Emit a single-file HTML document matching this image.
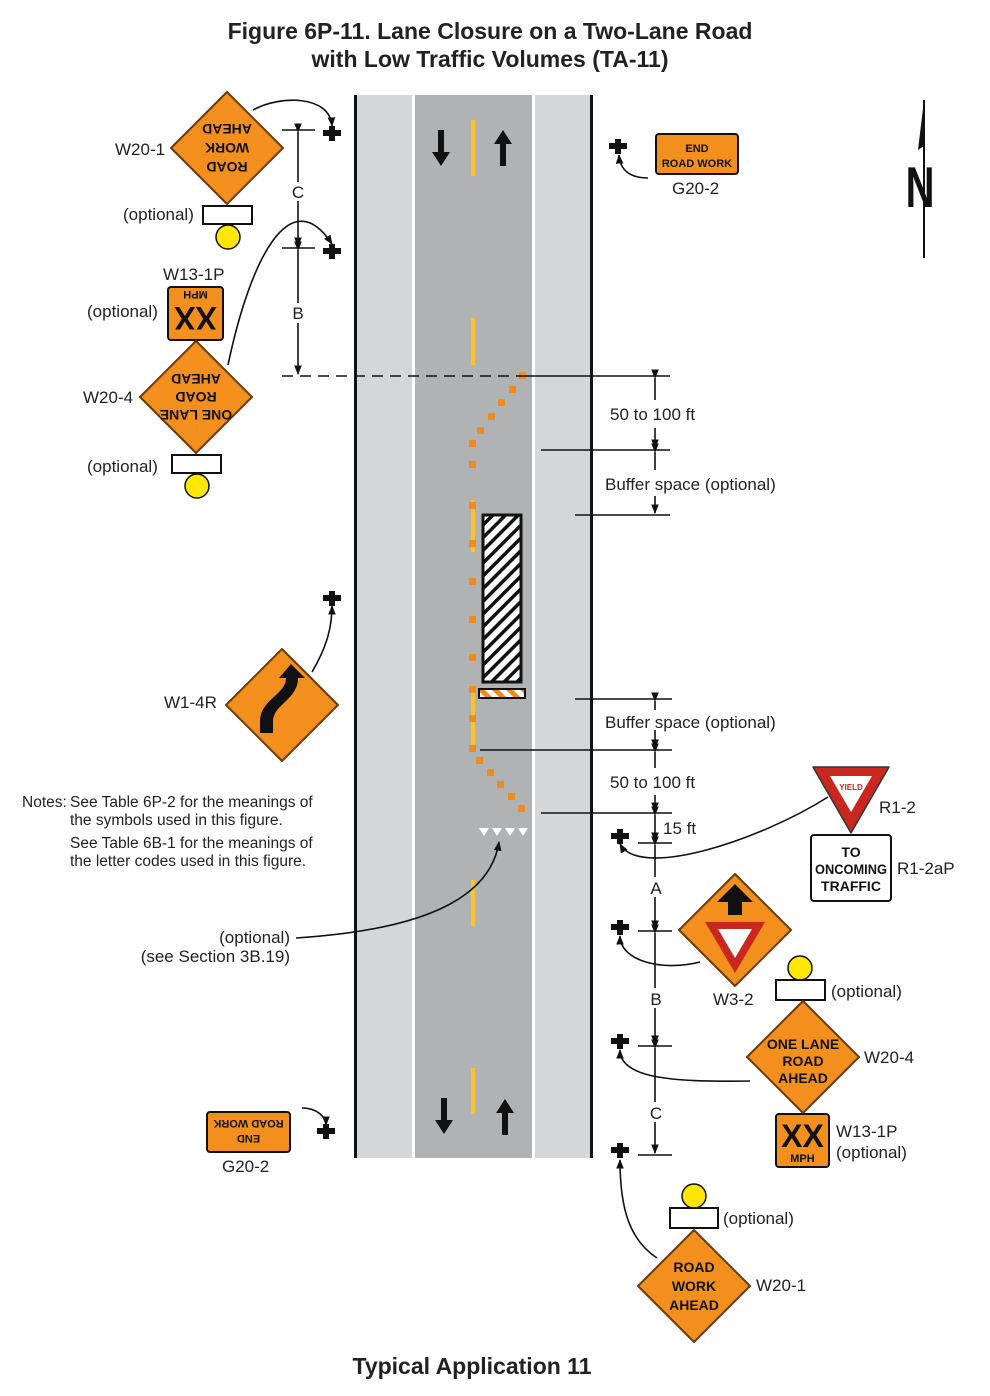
<!DOCTYPE html>
<html><head><meta charset="utf-8"><style>
html,body{margin:0;padding:0;background:#fff}
svg{display:block}
text{font-family:"Liberation Sans",Arial,sans-serif}
.l{font-size:17px;fill:#222}
.s{font-family:"Liberation Sans Narrow","Liberation Sans",sans-serif;font-weight:bold;font-size:14px;fill:#111;text-anchor:middle}
</style></head><body>
<svg width="990" height="1396" viewBox="0 0 990 1396" xmlns="http://www.w3.org/2000/svg">
<defs>
<marker id="ah" viewBox="0 0 10 10" refX="9" refY="5" markerWidth="6" markerHeight="6" orient="auto"><path d="M0,1 L10,5 L0,9 z" fill="#111"/></marker>
<pattern id="hat" width="9" height="9" patternUnits="userSpaceOnUse" patternTransform="rotate(45)"><rect width="9" height="9" fill="#fff"/><rect width="3.5" height="9" fill="#111"/></pattern>
<pattern id="bar" width="10" height="10" patternUnits="userSpaceOnUse" patternTransform="rotate(-45)"><rect width="10" height="10" fill="#fff"/><rect width="5" height="10" fill="#f08a1c"/></pattern>
<g id="plus"><rect x="-9" y="-3" width="18" height="6" fill="#111"/><rect x="-3" y="-7" width="6" height="15" fill="#111"/></g>
<g id="dia"><path d="M0,-56 L56,0 L0,56 L-56,0 Z" fill="#f3901d" stroke="#6b3a0c" stroke-width="2" stroke-linejoin="round"/></g>
</defs>

<!-- Titles -->
<text x="490" y="39" text-anchor="middle" style="font-size:23px;font-weight:bold;fill:#222">Figure 6P-11.  Lane Closure on a Two-Lane Road</text>
<text x="490" y="67" text-anchor="middle" style="font-size:23px;font-weight:bold;fill:#222">with Low Traffic Volumes (TA-11)</text>
<text x="472" y="1374" text-anchor="middle" style="font-size:23px;font-weight:bold;fill:#222">Typical Application 11</text>

<!-- Road -->
<rect x="357" y="95" width="233" height="1063" fill="#d5d6d8"/>
<rect x="415" y="95" width="117" height="1063" fill="#b1b2b4"/>
<rect x="412" y="95" width="3" height="1063" fill="#fff"/>
<rect x="532" y="95" width="3" height="1063" fill="#fff"/>
<rect x="354" y="95" width="3" height="1063" fill="#111"/>
<rect x="590" y="95" width="3" height="1063" fill="#111"/>
<g fill="#fbc22a">
<rect x="471" y="120" width="4" height="56"/>
<rect x="471" y="318" width="4" height="47"/>
<rect x="471" y="500" width="4" height="52"/>
<rect x="471" y="690" width="4" height="62"/>
<rect x="471" y="880" width="4" height="46"/>
<rect x="471" y="1068" width="4" height="46"/>
</g>
<g fill="#111">
<path d="M438,130 h6 v22 h6 l-9,14 l-9,-14 h6z"/>
<path d="M500,166 h6 v-22 h6 l-9,-14 l-9,14 h6z"/>
<path d="M441,1098 h6 v22 h6 l-9,14 l-9,-14 h6z"/>
<path d="M502,1135 h6 v-22 h6 l-9,-14 l-9,14 h6z"/>
</g>
<rect x="483" y="515" width="38" height="167" fill="url(#hat)" stroke="#111" stroke-width="3"/>
<rect x="479" y="689" width="46" height="9" fill="url(#bar)" stroke="#111" stroke-width="2"/>
<g fill="#f08a1c">
<rect x="519" y="372" width="7" height="7"/><rect x="509" y="386" width="7" height="7"/><rect x="498" y="399" width="7" height="7"/><rect x="488" y="413" width="7" height="7"/><rect x="477" y="427" width="7" height="7"/><rect x="469" y="440" width="7" height="7"/><rect x="469" y="461" width="7" height="7"/><rect x="469" y="502" width="7" height="7"/><rect x="469" y="540" width="7" height="7"/><rect x="469" y="578" width="7" height="7"/><rect x="469" y="616" width="7" height="7"/><rect x="469" y="654" width="7" height="7"/><rect x="469" y="686" width="7" height="7"/><rect x="469" y="715" width="7" height="7"/><rect x="469" y="745" width="7" height="7"/><rect x="476" y="757" width="7" height="7"/><rect x="487" y="769" width="7" height="7"/><rect x="497" y="781" width="7" height="7"/><rect x="508" y="793" width="7" height="7"/><rect x="518" y="805" width="7" height="7"/>
</g>
<g fill="#fff"><path d="M479,828 h10 l-5,8z"/><path d="M492,828 h10 l-5,8z"/><path d="M505,828 h10 l-5,8z"/><path d="M518,828 h10 l-5,8z"/></g>

<!-- dimension lines -->
<g stroke="#111" stroke-width="1.6" fill="none">
<line x1="282" y1="130" x2="315" y2="130"/><line x1="282" y1="248" x2="315" y2="248"/>
<line x1="298" y1="132" x2="298" y2="182" marker-start="url(#ah)"/>
<line x1="298" y1="201" x2="298" y2="246" marker-end="url(#ah)"/>
<line x1="298" y1="250" x2="298" y2="303" marker-start="url(#ah)"/>
<line x1="298" y1="323" x2="298" y2="374" marker-end="url(#ah)"/>
<line x1="282" y1="376" x2="520" y2="376" stroke-dasharray="11,7"/>
<line x1="520" y1="376" x2="670" y2="376"/>
<line x1="541" y1="450" x2="670" y2="450"/>
<line x1="575" y1="515" x2="670" y2="515"/>
<line x1="575" y1="699" x2="672" y2="699"/>
<line x1="480" y1="750" x2="672" y2="750"/>
<line x1="541" y1="813" x2="672" y2="813"/>
<line x1="638" y1="843" x2="672" y2="843"/>
<line x1="638" y1="931" x2="672" y2="931"/>
<line x1="638" y1="1046" x2="672" y2="1046"/>
<line x1="638" y1="1155" x2="672" y2="1155"/>
<line x1="655" y1="378" x2="655" y2="400" marker-start="url(#ah)"/>
<line x1="655" y1="428" x2="655" y2="448" marker-end="url(#ah)"/>
<line x1="655" y1="452" x2="655" y2="470" marker-start="url(#ah)"/>
<line x1="655" y1="496" x2="655" y2="513" marker-end="url(#ah)"/>
<line x1="655" y1="701" x2="655" y2="710" marker-start="url(#ah)"/>
<line x1="655" y1="730" x2="655" y2="748" marker-end="url(#ah)"/>
<line x1="655" y1="752" x2="655" y2="768" marker-start="url(#ah)"/>
<line x1="655" y1="795" x2="655" y2="811" marker-end="url(#ah)"/>
<line x1="655" y1="815" x2="655" y2="841" marker-start="url(#ah)" marker-end="url(#ah)"/>
<line x1="655" y1="845" x2="655" y2="877" marker-start="url(#ah)"/>
<line x1="655" y1="897" x2="655" y2="929" marker-end="url(#ah)"/>
<line x1="655" y1="933" x2="655" y2="988" marker-start="url(#ah)"/>
<line x1="655" y1="1008" x2="655" y2="1044" marker-end="url(#ah)"/>
<line x1="655" y1="1048" x2="655" y2="1102" marker-start="url(#ah)"/>
<line x1="655" y1="1122" x2="655" y2="1153" marker-end="url(#ah)"/>
</g>
<g class="l">
<text x="298" y="198" text-anchor="middle">C</text>
<text x="298" y="319" text-anchor="middle">B</text>
<text x="610" y="420">50 to 100 ft</text>
<text x="605" y="490">Buffer space (optional)</text>
<text x="605" y="728">Buffer space (optional)</text>
<text x="610" y="788">50 to 100 ft</text>
<text x="663" y="834">15 ft</text>
<text x="656" y="894" text-anchor="middle">A</text>
<text x="656" y="1005" text-anchor="middle">B</text>
<text x="656" y="1119" text-anchor="middle">C</text>
</g>

<!-- connectors -->
<g stroke="#111" stroke-width="1.6" fill="none">
<path d="M253,110 C280,95 330,95 332,126" marker-end="url(#ah)"/>
<path d="M228,365 C250,260 290,180 332,244" marker-end="url(#ah)"/>
<path d="M312,672 C325,650 332,630 332,606" marker-end="url(#ah)"/>
<path d="M296,938 C420,930 490,900 499,842" marker-end="url(#ah)"/>
<path d="M828,797 C760,840 640,880 620,844" marker-end="url(#ah)"/>
<path d="M700,962 C660,972 620,960 620,936" marker-end="url(#ah)"/>
<path d="M750,1081 C680,1082 620,1080 620,1050" marker-end="url(#ah)"/>
<path d="M657,1258 C630,1240 620,1210 620,1160" marker-end="url(#ah)"/>
<path d="M648,178 C630,178 620,170 619,155" marker-end="url(#ah)"/>
<path d="M302,1108 C318,1108 326,1118 326,1125" marker-end="url(#ah)"/>
</g>

<use href="#plus" x="332" y="133"/><use href="#plus" x="332" y="251"/><use href="#plus" x="332" y="598"/>
<use href="#plus" x="618" y="146"/><use href="#plus" x="620" y="836"/><use href="#plus" x="620" y="927"/>
<use href="#plus" x="620" y="1041"/><use href="#plus" x="620" y="1150"/><use href="#plus" x="326" y="1131"/>

<!-- W20-1 top -->
<use href="#dia" x="227" y="148"/>
<g transform="rotate(180 227 148)"><text class="s" x="227" y="134">ROAD</text><text class="s" x="227" y="153">WORK</text><text class="s" x="227" y="172">AHEAD</text></g>
<rect x="203" y="206" width="49" height="18" fill="#fff" stroke="#111" stroke-width="2"/>
<circle cx="228" cy="237" r="12" fill="#ffe600" stroke="#111" stroke-width="1.5"/>
<text class="l" x="115" y="155">W20-1</text>
<text class="l" x="123" y="220">(optional)</text>

<rect x="168" y="287" width="55" height="53" rx="3" fill="#f3901d" stroke="#111" stroke-width="2"/>
<g transform="rotate(180 195.5 313.5)"><text x="195.5" y="320" text-anchor="middle" style="font-weight:bold;font-size:32px;fill:#111">XX</text><text x="195.5" y="336" text-anchor="middle" style="font-weight:bold;font-size:11px;fill:#111">MPH</text></g>
<text class="l" x="163" y="280">W13-1P</text>
<text class="l" x="87" y="317">(optional)</text>

<use href="#dia" x="196" y="397"/>
<g transform="rotate(180 196 397)"><text class="s" x="196" y="384">ONE LANE</text><text class="s" x="196" y="402">ROAD</text><text class="s" x="196" y="420">AHEAD</text></g>
<rect x="172" y="455" width="49" height="18" fill="#fff" stroke="#111" stroke-width="2"/>
<circle cx="197" cy="486" r="12" fill="#ffe600" stroke="#111" stroke-width="1.5"/>
<text class="l" x="83" y="403">W20-4</text>
<text class="l" x="87" y="472">(optional)</text>

<!-- W1-4R -->
<use href="#dia" x="282" y="705"/>
<path d="M260,733 L273,733 L273,722 C273,712 280,707 287,700 C295,692 298,686 298,678 L305,678 L291,664 L279,678 L286,678 C286,684 283,688 277,694 C266,704 260,710 260,722 Z" fill="#111"/>
<text class="l" x="164" y="708">W1-4R</text>

<g class="l" style="font-size:15.5px">
<text x="22" y="807">Notes:</text><text x="70" y="807">See Table 6P-2 for the meanings of</text>
<text x="70" y="825">the symbols used in this figure.</text>
<text x="70" y="848">See Table 6B-1 for the meanings of</text>
<text x="70" y="866">the letter codes used in this figure.</text>
</g>
<text class="l" x="290" y="943" text-anchor="end">(optional)</text>
<text class="l" x="290" y="962" text-anchor="end">(see Section 3B.19)</text>

<rect x="656" y="134" width="82" height="40" rx="3" fill="#f3901d" stroke="#111" stroke-width="2"/>
<text class="s" x="697" y="152" style="font-size:11px">END</text><text class="s" x="697" y="167" style="font-size:11px">ROAD WORK</text>
<text class="l" x="672" y="194">G20-2</text>

<rect x="207" y="1112" width="83" height="40" rx="3" fill="#f3901d" stroke="#111" stroke-width="2"/>
<g transform="rotate(180 248.5 1132)"><text class="s" x="248.5" y="1129" style="font-size:11px">END</text><text class="s" x="248.5" y="1144" style="font-size:11px">ROAD WORK</text></g>
<text class="l" x="222" y="1172">G20-2</text>

<!-- North arrow -->
<line x1="924" y1="100" x2="924" y2="258" stroke="#111" stroke-width="2"/>
<path d="M924,100 L918,150 L924,146 Z" fill="#111"/>
<text x="0" y="0" text-anchor="middle" transform="translate(920,207) scale(0.8,1.15)" style="font-size:50px;font-weight:bold;fill:#111">N</text>

<!-- R1-2 -->
<path d="M813,767 L889,767 L851,833 Z" fill="#c8281e" stroke="#333" stroke-width="1.5" stroke-linejoin="round"/>
<path d="M830,776 L872,776 L851,812 Z" fill="#fff"/>
<text x="851" y="790" text-anchor="middle" style="font-size:8px;font-weight:bold;fill:#c8281e">YIELD</text>
<text class="l" x="879" y="813">R1-2</text>
<rect x="811" y="835" width="80" height="66" rx="3" fill="#fff" stroke="#111" stroke-width="2"/>
<text class="s" x="851" y="857">TO</text><text class="s" x="851" y="874" textLength="72" lengthAdjust="spacingAndGlyphs">ONCOMING</text><text class="s" x="851" y="891">TRAFFIC</text>
<text class="l" x="897" y="874">R1-2aP</text>

<use href="#dia" x="735" y="930"/>
<path d="M728,915 L742,915 L742,902 L753,902 L735,884 L717,902 L728,902 Z" fill="#111"/>
<path d="M705,922 L765,922 L735,973 Z" fill="#c8281e"/>
<path d="M718,929 L752,929 L735,958 Z" fill="#fff"/>
<text class="l" x="713" y="1005">W3-2</text>

<circle cx="800" cy="968" r="12" fill="#ffe600" stroke="#111" stroke-width="1.5"/>
<rect x="776" y="980" width="49" height="20" fill="#fff" stroke="#111" stroke-width="2"/>
<text class="l" x="831" y="997">(optional)</text>
<use href="#dia" x="803" y="1057"/>
<text class="s" x="803" y="1049">ONE LANE</text><text class="s" x="803" y="1066">ROAD</text><text class="s" x="803" y="1083">AHEAD</text>
<text class="l" x="864" y="1063">W20-4</text>
<rect x="776" y="1114" width="53" height="53" rx="3" fill="#f3901d" stroke="#111" stroke-width="2"/>
<text x="802.5" y="1147" text-anchor="middle" style="font-weight:bold;font-size:32px;fill:#111">XX</text>
<text x="802.5" y="1162" text-anchor="middle" style="font-weight:bold;font-size:11px;fill:#111">MPH</text>
<text class="l" x="836" y="1137">W13-1P</text>
<text class="l" x="836" y="1158">(optional)</text>

<circle cx="694" cy="1196" r="12" fill="#ffe600" stroke="#111" stroke-width="1.5"/>
<rect x="670" y="1208" width="48" height="20" fill="#fff" stroke="#111" stroke-width="2"/>
<text class="l" x="723" y="1224">(optional)</text>
<use href="#dia" x="694" y="1286"/>
<text class="s" x="694" y="1272">ROAD</text><text class="s" x="694" y="1291">WORK</text><text class="s" x="694" y="1310">AHEAD</text>
<text class="l" x="756" y="1291">W20-1</text>
</svg>
</body></html>
